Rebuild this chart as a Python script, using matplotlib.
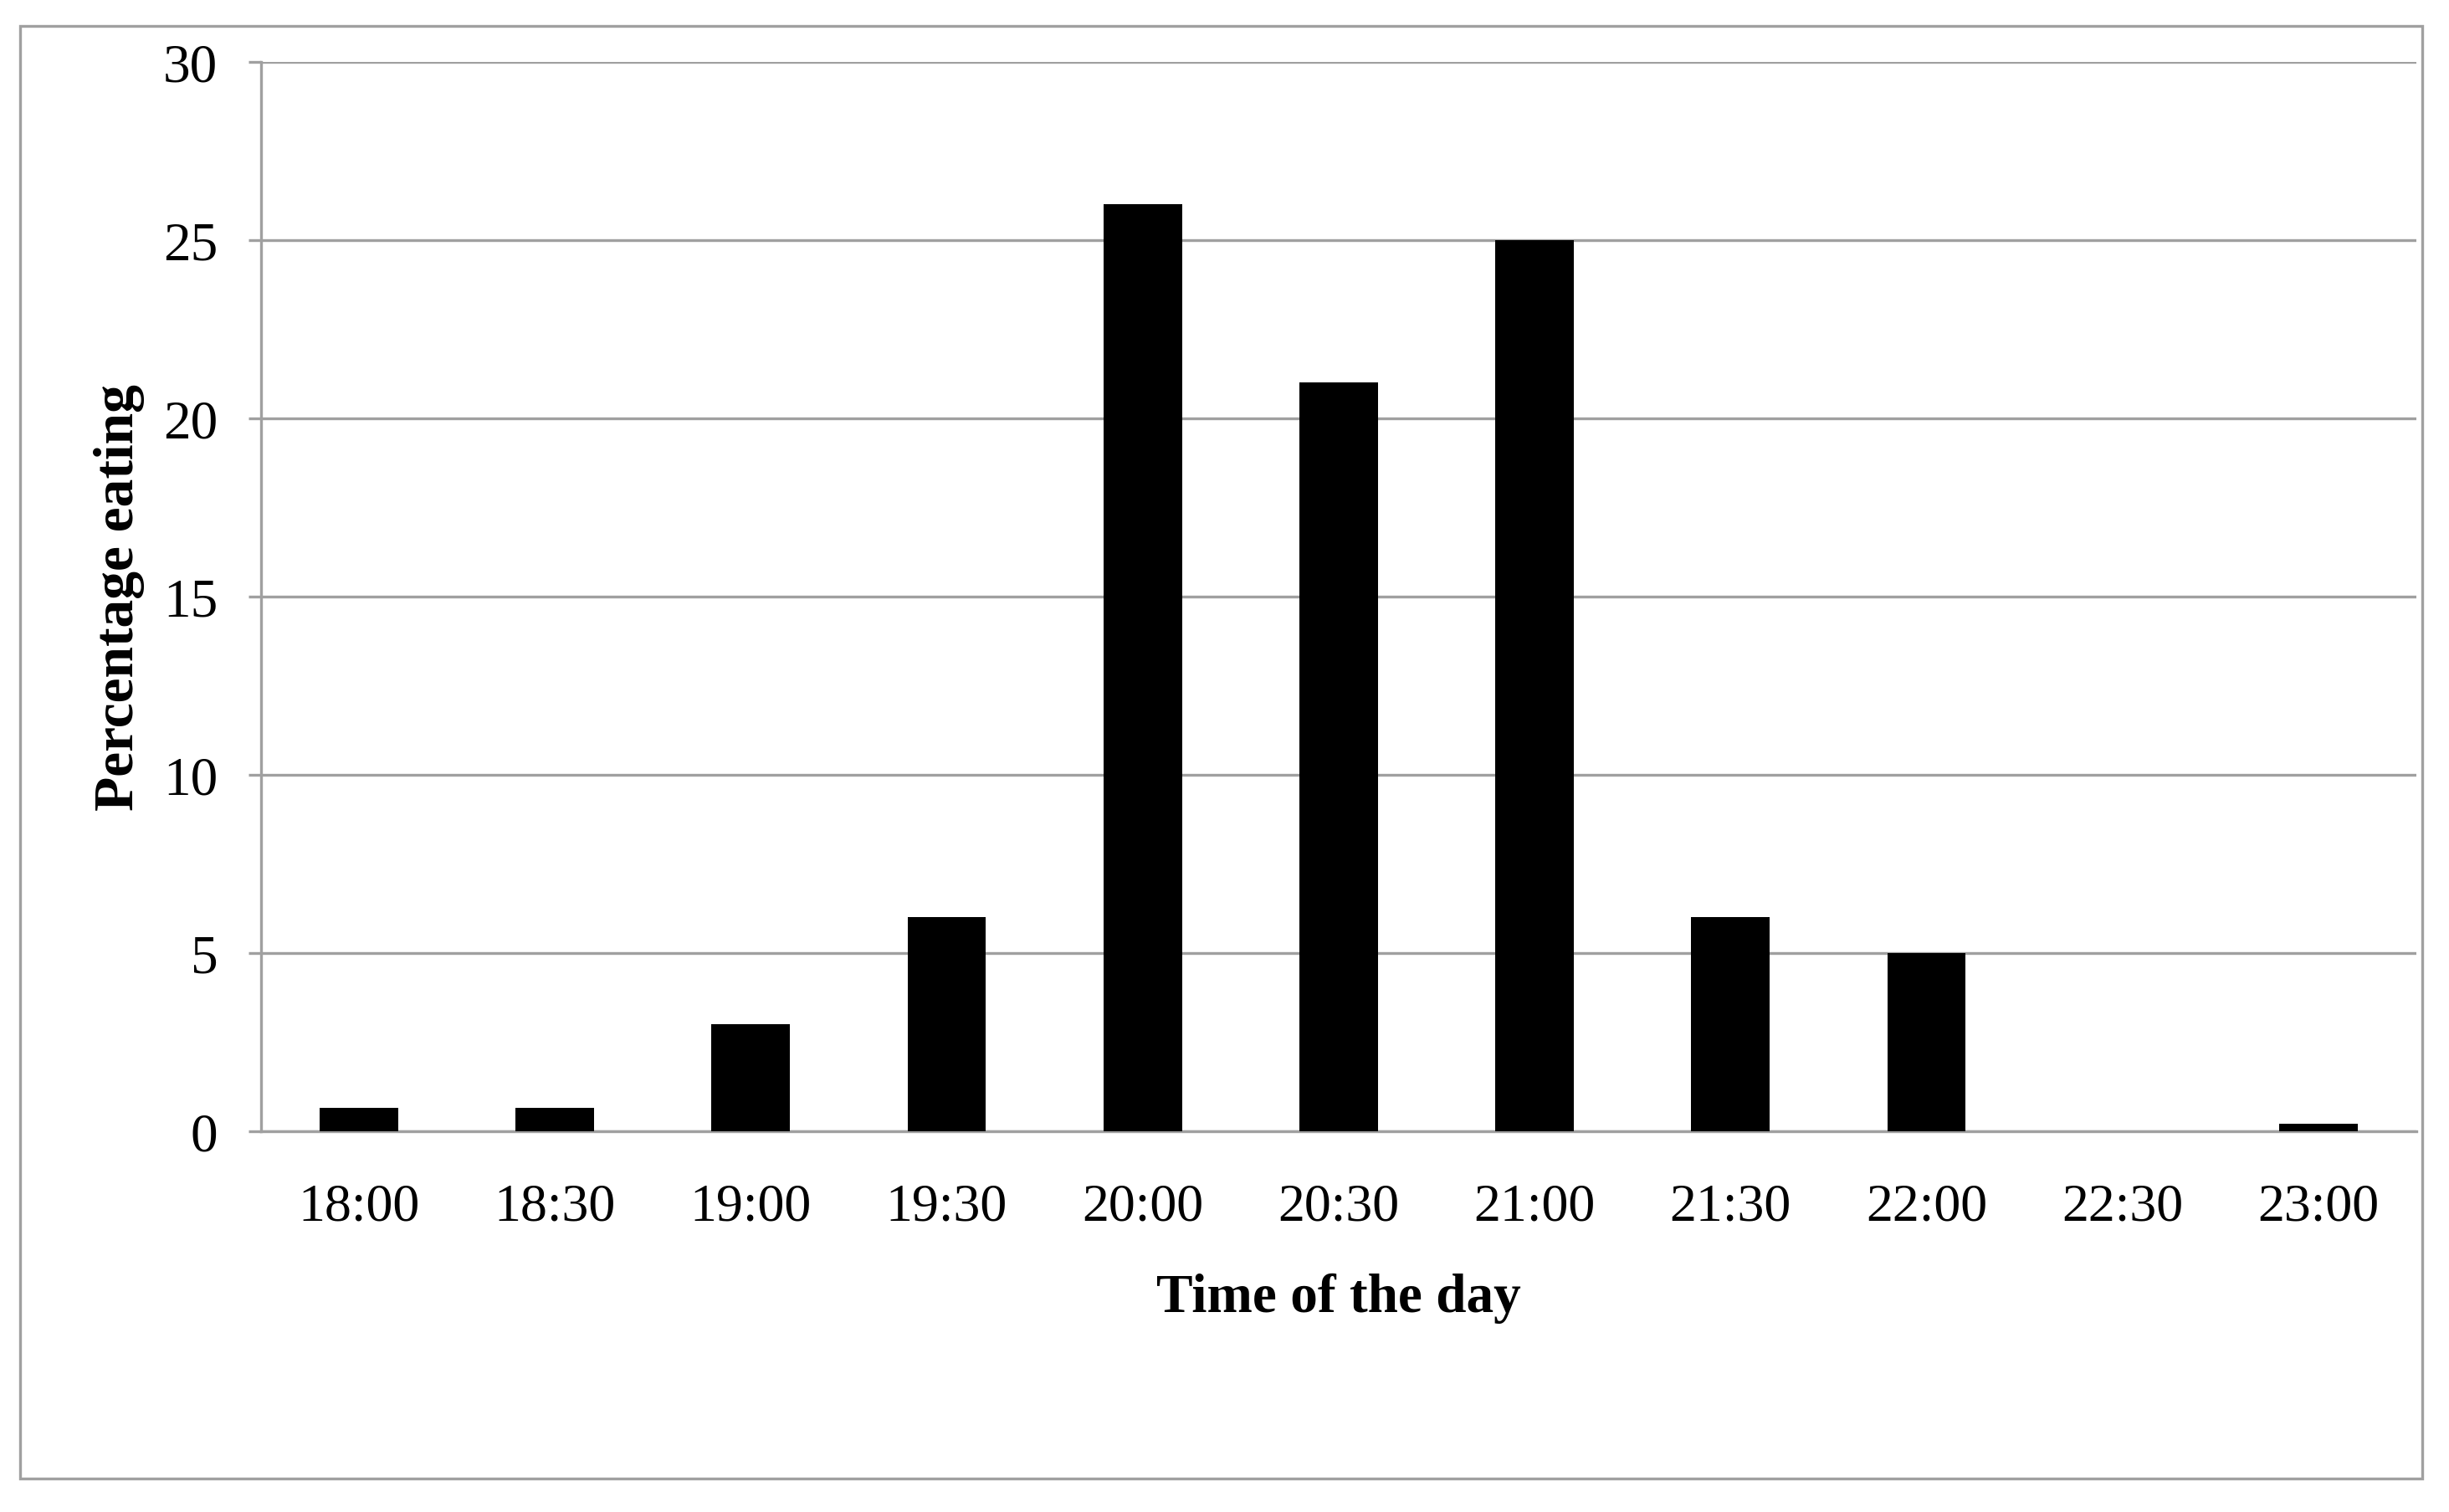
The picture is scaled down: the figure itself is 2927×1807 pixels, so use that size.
import matplotlib.pyplot as plt
from matplotlib.patches import Rectangle

# Values
times = ['18:00', '18:30', '19:00', '19:30', '20:00', '20:30',
         '21:00', '21:30', '22:00', '22:30', '23:00']
pct_eating = [0.65, 0.65, 3, 6, 26, 21, 25, 6, 5, 0, 0.2]
y_ticks = [0, 5, 10, 15, 20, 25, 30]

grey = '#a0a0a0'

plt.rcParams['font.family'] = ['Liberation Serif', 'DejaVu Serif']

fig = plt.figure(figsize=(14.635, 9.04), dpi=200)
ax = fig.add_axes([0.1065, 0.2517, 0.8802, 0.7068])

x = range(len(times))
ax.bar(x, pct_eating, width=0.4, color='black', zorder=3)

ax.set_xlim(-0.5, len(times) - 0.5)
ax.set_ylim(0, 30)
ax.set_yticks(y_ticks)
ax.set_xticks(list(x))
ax.set_xticklabels(times)

ax.grid(axis='y', color=grey, linewidth=1.2, zorder=0)
for side in ['top', 'right']:
    ax.spines[side].set_visible(False)
ax.spines['left'].set_color(grey)
ax.spines['left'].set_linewidth(1.2)
ax.spines['bottom'].set_color(grey)
ax.spines['bottom'].set_linewidth(1.2)

ax.tick_params(axis='y', length=5.5, width=1.2, color=grey, pad=13,
               labelsize=23.5)
ax.tick_params(axis='x', length=0, pad=22, labelsize=23)

ax.set_xlabel('Time of the day', fontsize=23.5, fontweight='bold', labelpad=18)
ax.set_ylabel('Percentage eating', fontsize=24.3, fontweight='bold', labelpad=8)

# outer border round the whole chart
fig.patches.append(Rectangle((0.0082, 0.0221), 0.9808, 0.9602,
                             transform=fig.transFigure, fill=False,
                             edgecolor=grey, linewidth=1.2))

fig.savefig('out.png', dpi=200)
